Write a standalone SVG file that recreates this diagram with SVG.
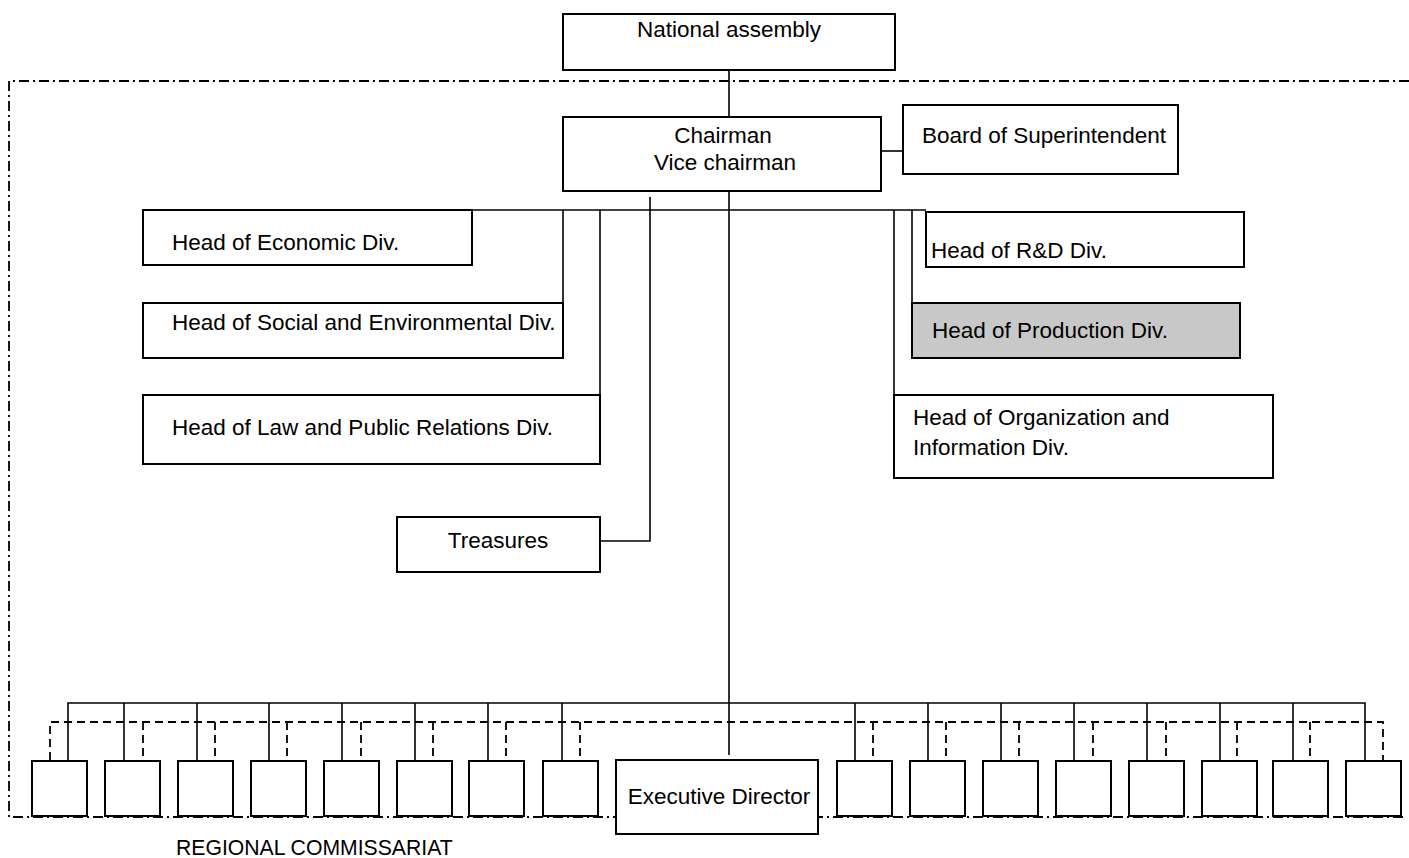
<svg xmlns="http://www.w3.org/2000/svg" width="1409" height="858" viewBox="0 0 1409 858">
<style>
.box{fill:#fff;stroke:#000;stroke-width:2}
.grey{fill:#c8c8c8;stroke:#000;stroke-width:2}
.t{font-family:"Liberation Sans",Arial,sans-serif;font-size:22.5px;fill:#000}
.m{text-anchor:middle}
.c{fill:none;stroke:#000;stroke-width:1.6}
.d{fill:none;stroke:#000;stroke-width:1.8;stroke-dasharray:8 5}
.dd{fill:none;stroke:#000;stroke-width:1.8;stroke-dasharray:10 4 2 4}
</style>
<rect width="1409" height="858" fill="#fff"/>
<g id="boundary">
<path class="dd" d="M1409 81H9V817H1405"/>
</g>
<g id="connectors">
<path class="c" d="M729 61V117"/>
<path class="c" d="M881 151H903"/>
<path class="c" d="M729 191V755"/>
<path class="c" d="M143 210H926"/>
<path class="c" d="M563 210V303"/>
<path class="c" d="M600 210V395"/>
<path class="c" d="M650 197V541H600"/>
<path class="c" d="M894 210V395"/>
<path class="c" d="M912 210V303"/>
<path class="c" d="M68 760V703H1365V760"/>
<path class="c" d="M124 703V760M197 703V760M269 703V760M342 703V760M415 703V760M488 703V760M562 703V760"/>
<path class="c" d="M855 703V760M928 703V760M1001 703V760M1074 703V760M1147 703V760M1220 703V760M1293 703V760"/>
<path class="d" d="M50 760V722H1383V760"/>
<path class="d" d="M143 722V760M215 722V760M287 722V760M361 722V760M433 722V760M506 722V760M580 722V760"/>
<path class="d" d="M873 722V760M946 722V760M1019 722V760M1093 722V760M1166 722V760M1237 722V760M1310 722V760"/>
</g>
<g id="national-assembly">
<rect class="box" x="563" y="14" width="332" height="56"/>
<text class="t m" x="729" y="37">National assembly</text>
</g>
<g id="chairman">
<rect class="box" x="563" y="117" width="318" height="74"/>
<text class="t m" x="723" y="143">Chairman</text>
<text class="t m" x="725" y="170">Vice chairman</text>
</g>
<g id="board">
<rect class="box" x="903" y="105" width="275" height="69"/>
<text class="t" x="922" y="143">Board of Superintendent</text>
</g>
<g id="economic">
<rect class="box" x="143" y="210" width="329" height="55"/>
<text class="t" x="172" y="250">Head of Economic Div.</text>
</g>
<g id="social">
<rect class="box" x="143" y="303" width="420" height="55"/>
<text class="t" x="172" y="330">Head of Social and Environmental Div.</text>
</g>
<g id="law">
<rect class="box" x="143" y="395" width="457" height="69"/>
<text class="t" x="172" y="435">Head of Law and Public Relations Div.</text>
</g>
<g id="treasures">
<rect class="box" x="397" y="517" width="203" height="55"/>
<text class="t m" x="498" y="548">Treasures</text>
</g>
<g id="rnd">
<rect class="box" x="926" y="212" width="318" height="55"/>
<text class="t" x="931" y="258">Head of R&amp;D Div.</text>
</g>
<g id="production">
<rect class="grey" x="912" y="303" width="328" height="55"/>
<text class="t" x="932" y="338">Head of Production Div.</text>
</g>
<g id="organization">
<rect class="box" x="894" y="395" width="379" height="83"/>
<text class="t" x="913" y="425">Head of Organization and</text>
<text class="t" x="913" y="455">Information Div.</text>
</g>
<g id="executive-director">
<rect class="box" x="616" y="760" width="202" height="74"/>
<text class="t m" x="719" y="804">Executive Director</text>
</g>
<g id="regional-left">
<rect class="box" x="32" y="761" width="55" height="55"/>
<rect class="box" x="105" y="761" width="55" height="55"/>
<rect class="box" x="178" y="761" width="55" height="55"/>
<rect class="box" x="251" y="761" width="55" height="55"/>
<rect class="box" x="324" y="761" width="55" height="55"/>
<rect class="box" x="397" y="761" width="55" height="55"/>
<rect class="box" x="469" y="761" width="55" height="55"/>
<rect class="box" x="543" y="761" width="55" height="55"/>
</g>
<g id="regional-right">
<rect class="box" x="837" y="761" width="55" height="55"/>
<rect class="box" x="910" y="761" width="55" height="55"/>
<rect class="box" x="983" y="761" width="55" height="55"/>
<rect class="box" x="1056" y="761" width="55" height="55"/>
<rect class="box" x="1129" y="761" width="55" height="55"/>
<rect class="box" x="1202" y="761" width="55" height="55"/>
<rect class="box" x="1273" y="761" width="55" height="55"/>
<rect class="box" x="1346" y="761" width="55" height="55"/>
</g>
<g id="regional-label">
<text class="t" x="176" y="855" style="font-size:21.2px">REGIONAL COMMISSARIAT</text>
</g>
</svg>
